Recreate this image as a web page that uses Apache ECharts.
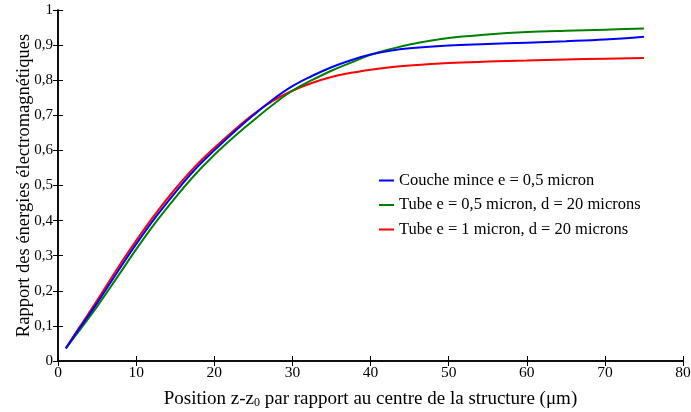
<!DOCTYPE html>
<html><head><meta charset="utf-8">
<script src="https://cdn.jsdelivr.net/npm/echarts@6/dist/echarts.min.js"></script>
<style>html,body{margin:0;padding:0;background:#fff}#c{width:691px;height:412px}</style>
</head><body><div id="c"></div>
<script>
const xs = [1,2.5,5,7.5,10,12.5,15,17.5,20,22.5,25,27.5,30,32.5,35,37.5,40,42.5,45,50,55,60,65,70,75];
const couche = [0.036,0.085,0.165,0.25,0.333,0.41,0.48,0.545,0.600,0.652,0.700,0.745,0.783,0.812,0.837,0.857,0.873,0.884,0.891,0.899,0.903,0.907,0.911,0.916,0.924];
const tube05 = [0.036,0.08,0.155,0.236,0.318,0.395,0.465,0.53,0.587,0.638,0.685,0.73,0.77,0.80,0.827,0.85,0.872,0.888,0.902,0.920,0.930,0.937,0.941,0.944,0.947];
const tube1 = [0.036,0.088,0.172,0.26,0.343,0.42,0.49,0.553,0.607,0.657,0.703,0.741,0.770,0.792,0.809,0.821,0.830,0.837,0.842,0.849,0.853,0.856,0.859,0.861,0.863];
const names = ['Couche mince e = 0,5 micron','Tube e = 0,5 micron, d = 20 microns','Tube e = 1 micron, d = 20 microns'];
const colors = ['#0000ff','#008000','#ff0000'];
const font = 'Liberation Serif';
const chart = echarts.init(document.getElementById('c'));
const mk = (i, arr) => ({name: names[i], type:'line', data: xs.map((x,k)=>[x,arr[k]]), smooth:0.4, showSymbol:false, symbol:'none',
  lineStyle:{color:colors[i], width:2}, itemStyle:{color:colors[i]}, z: 10-i});
const baseAxis = {axisLine:{show:true,lineStyle:{color:'#000',width:1.5}}, axisTick:{show:true,inside:true,length:5,lineStyle:{color:'#000'}}, splitLine:{show:false}};
chart.setOption({
  animation:false,
  textStyle:{fontFamily:font},
  grid:{left:58,right:8,top:10,bottom:51,containLabel:false,outerBoundsMode:'none'},
  legend:{data:names, orient:'vertical', left:379, top:172, padding:0, itemWidth:15, itemHeight:2, itemGap:7.5, icon:'rect',
    textStyle:{fontFamily:font,fontSize:16.5,lineHeight:16,color:'#000'}},
  xAxis:[
    Object.assign({type:'value',min:0,max:80,interval:10, position:'bottom',
      axisLabel:{fontFamily:font,fontSize:15.5,color:'#000',margin:4},
      name:'{a|Position z-z}{s|0}{a| par rapport au centre de la structure (μm)}', nameLocation:'middle', nameGap:29, nameMoveOverlap:false,
      nameTextStyle:{rich:{a:{fontFamily:font,fontSize:19,color:'#000'},s:{fontFamily:font,fontSize:12,color:'#000',verticalAlign:'bottom',padding:[7,0,0,0]}}}}, baseAxis),
    Object.assign({type:'value',min:0,max:80,interval:10, position:'top', axisLabel:{show:false}}, baseAxis)
  ],
  yAxis:[
    Object.assign({type:'value',min:0,max:1,interval:0.1, position:'left',
      axisLabel:{fontFamily:font,fontSize:15,color:'#000',margin:5,
        formatter:v=> (Math.abs(v)<1e-9?'0':Math.abs(v-1)<1e-9?'1':v.toFixed(1).replace('.',','))},
      name:'Rapport des énergies électromagnétiques', nameLocation:'middle', nameGap:24, nameMoveOverlap:false,
      nameTextStyle:{fontFamily:font,fontSize:18.5,color:'#000'}}, baseAxis),
    Object.assign({type:'value',min:0,max:1,interval:0.1, position:'right', axisLabel:{show:false}}, baseAxis)
  ],
  series:[mk(0,couche), mk(1,tube05), mk(2,tube1)]
});
</script></body></html>
